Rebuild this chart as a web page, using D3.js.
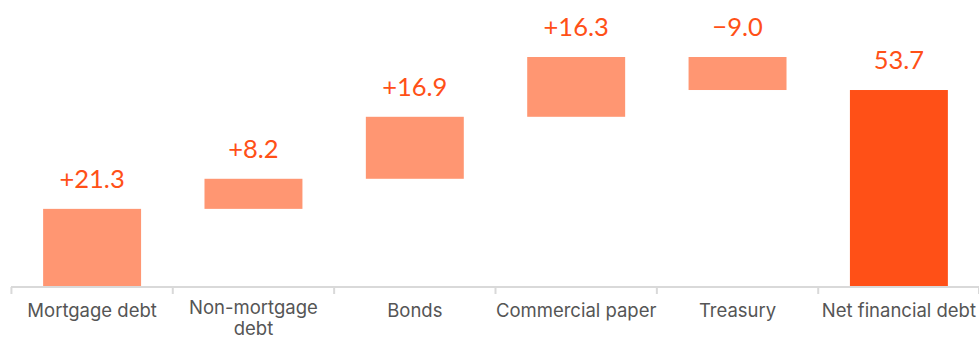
<!DOCTYPE html>
<html><head><meta charset="utf-8">
<script src="https://cdn.jsdelivr.net/npm/d3@7"></script>
<style>body{margin:0;background:#fff}svg{display:block}</style>
</head><body>
<svg id="c" width="979" height="339"></svg>
<script>
const categories = ["Mortgage debt","Non-mortgage debt","Bonds","Commercial paper","Treasury","Net financial debt"];
const changes = [21.3, 8.2, 16.9, 16.3, -9.0, null];
const labels = ["+21.3","+8.2","+16.9","+16.3","\u22129.0","53.7"];
const total = 53.7;

const svg = d3.select("#c");
const axisY = 287;

let run = 0;
const bars = categories.map((c,i)=>{
  if (changes[i] === null) return {c, y0:0, y1:total, total:true, label:labels[i]};
  const y0 = run; run += changes[i];
  return {c, y0, y1:run, total:false, label:labels[i]};
});
const maxV = d3.max(bars, d=>Math.max(d.y0,d.y1));

const x = d3.scaleBand().domain(categories).range([11.5, 979.5]).paddingInner(0.393).paddingOuter(0.196);
const y = d3.scaleLinear().domain([0, maxV]).range([axisY, 57]);

svg.selectAll("rect.bar").data(bars).join("rect")
  .attr("class","bar")
  .attr("x", d=>x(d.c))
  .attr("width", x.bandwidth())
  .attr("y", d=>y(Math.max(d.y0,d.y1)))
  .attr("height", d=>Math.abs(y(d.y0)-y(d.y1)))
  .attr("fill", d=>d.total ? "#FF5017" : "#FF9672");

svg.selectAll("text.val").data(bars).join("text")
  .attr("class","val")
  .attr("x", d=>x(d.c)+x.bandwidth()/2)
  .attr("y", d=>y(Math.max(d.y0,d.y1)) - 21)
  .attr("text-anchor","middle")
  .attr("font-family","Lato, sans-serif")
  .attr("font-size", 25.5)
  .attr("fill","#FF5017")
  .text(d=>d.label);

const step = x.step();
const axisG = svg.append("g").attr("transform",`translate(0,${axisY})`);
axisG.call(d3.axisBottom(x).tickSize(0).tickPadding(0));
axisG.select(".domain").attr("stroke","#d9d9d9").attr("stroke-width",2).attr("d",`M11,0H979`);
axisG.selectAll(".tick text").remove();
const edges = categories.map(c=>x(c)-x.step()*x.paddingInner()/2).concat([979]);
axisG.selectAll("line.edge").data(edges).join("line").attr("class","edge")
  .attr("x1",d=>d).attr("x2",d=>d).attr("y1",0).attr("y2",7)
  .attr("stroke","#d9d9d9").attr("stroke-width",2);

const catG = svg.append("g");
categories.forEach(c=>{
  const cx = x(c)+x.bandwidth()/2;
  const t = catG.append("text").attr("x",cx).attr("y",317)
    .attr("text-anchor","middle").attr("font-family","Inter, sans-serif")
    .attr("font-size",18.5).attr("fill","#555");
  t.text(c);
  if (t.node().getComputedTextLength() > step*1.03) {
    const words = c.split(" ");
    const last = words.pop();
    t.text(null);
    const g = catG.append("g");
    t.remove();
    g.append("text").attr("x",cx).attr("y",314)
      .attr("text-anchor","middle").attr("font-family","Inter, sans-serif")
      .attr("font-size",18.5).attr("fill","#555").text(words.join(" "));
    g.append("text").attr("x",cx).attr("y",335)
      .attr("text-anchor","middle").attr("font-family","Inter, sans-serif")
      .attr("font-size",18.5).attr("fill","#555").text(last);
  }
});
</script>
</body></html>
